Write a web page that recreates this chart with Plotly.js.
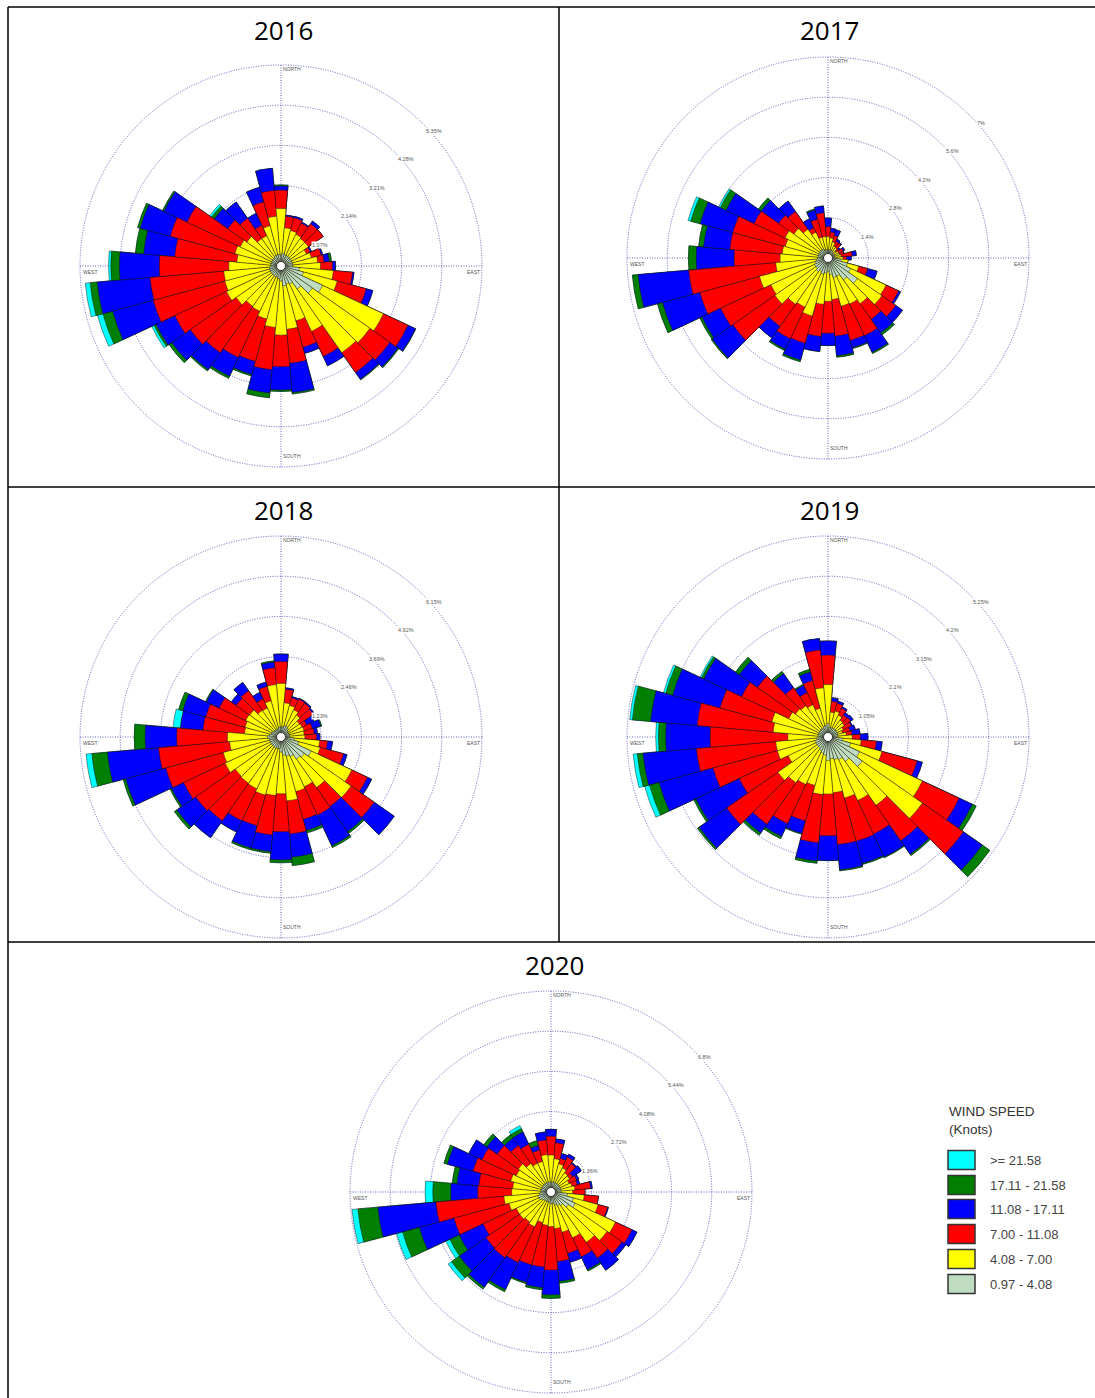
<!DOCTYPE html>
<html><head><meta charset="utf-8">
<script src="https://cdn.plot.ly/plotly-3.0.1.min.js"></script>
<style>html,body{margin:0;padding:0;background:#fff}</style>
</head><body><div id="chart" style="width:1095px;height:1398px"></div>
<script>
// Direction of each sector (degrees clockwise from north)
const directions = [0,10,20,30,40,50,60,70,80,90,100,110,120,130,140,150,160,170,180,190,200,210,220,230,240,250,260,270,280,290,300,310,320,330,340,350];
const speedClasses = ['>= 21.58','17.11 - 21.58','11.08 - 17.11','7.00 - 11.08','4.08 - 7.00','0.97 - 4.08'];
const classColors = ['#00ffff','#007f00','#0000ff','#ff0000','#ffff00','#c0dcc0'];

// Cumulative frequency (%) per direction, up to and including each speed class
const y2016_097 = [.29,.34,.31,.31,.31,.31,.31,.31,.31,.31,.49,.62,1.22,1.02,.75,.53,.49,.53,.40,.34,.31,.31,.31,.31,.31,.31,.31,.27,.27,.27,.27,.27,.27,.31,.31,.31];
const y2016_408 = [1.53,1.02,.98,.93,.89,.89,.75,.84,.98,1.05,1.40,1.55,3.01,2.89,2.82,1.92,1.51,1.69,1.84,1.64,1.46,1.33,1.31,1.46,1.60,1.55,1.53,1.39,1.18,1.27,1.20,1.11,.89,.89,1.11,1.33];
const y2016_700 = [2.02,1.33,1.33,1.26,1.37,1.37,.86,1.11,1.15,1.37,1.91,2.35,3.73,3.54,3.46,2.66,2.24,2.60,2.68,2.77,2.63,2.69,2.82,2.95,3.12,3.52,3.50,3.24,2.84,3.05,2.76,1.73,1.55,1.20,1.77,2.02];
const y2016_1108 = [2.13,1.36,1.37,1.29,1.46,1.37,.90,1.15,1.29,1.45,1.95,2.53,3.95,3.80,3.68,2.93,2.41,3.38,3.30,3.39,2.99,3.24,3.37,3.55,3.67,4.64,4.91,4.30,3.67,3.88,3.44,2.17,2.08,1.55,2.17,2.61];
const y2016_1711 = [2.16,1.36,1.37,1.29,1.46,1.37,.90,1.15,1.35,1.45,1.95,2.53,3.96,3.83,3.70,2.93,2.41,3.42,3.34,3.52,3.03,3.30,3.41,3.64,3.73,4.91,5.10,4.53,3.89,3.95,3.48,2.26,2.08,1.55,2.17,2.61];
const y2016_2158 = [2.16,1.36,1.37,1.29,1.46,1.37,.90,1.15,1.35,1.45,1.95,2.53,3.96,3.83,3.70,2.93,2.41,3.42,3.34,3.52,3.03,3.30,3.41,3.64,3.80,5.06,5.23,4.59,3.89,3.95,3.48,2.32,2.08,1.55,2.17,2.61];

const y2017_097 = [.29,.29,.29,.29,.23,.23,.23,.23,.23,.29,.46,.70,.87,1.25,.93,.70,.70,.58,.46,.52,.58,.52,.58,.52,.52,.46,.41,.35,.35,.35,.35,.35,.35,.35,.29,.29];
const y2017_408 = [.74,.70,.58,.46,.44,.35,.41,.41,.46,.52,.70,1.11,2.23,2.29,1.94,1.77,1.74,1.45,1.51,1.62,2.09,1.89,1.97,2.26,2.20,2.47,1.83,1.67,1.60,1.54,1.65,1.45,1.22,.99,.75,.75];
const y2017_700 = [1.09,.90,.81,.64,.64,.46,.58,.56,.84,.64,.70,1.43,2.71,2.88,2.61,2.99,2.97,2.73,2.62,2.74,3.07,3.10,2.91,4.05,4.13,4.62,4.87,3.27,3.43,3.43,2.84,2.10,1.98,1.16,1.40,1.58];
const y2017_1108 = [1.39,1.04,1.02,.72,.67,.52,.64,.58,.99,.81,.70,1.77,2.78,3.17,3.19,3.62,3.24,3.42,3.05,3.27,3.68,3.51,3.40,4.92,4.85,5.97,6.64,4.59,4.35,4.61,3.92,2.84,2.42,1.51,1.73,1.82];
const y2017_1711 = [1.39,1.04,1.02,.72,.67,.52,.64,.58,.99,.81,.70,1.77,2.78,3.17,3.27,3.67,3.27,3.47,3.05,3.27,3.74,3.56,3.40,4.96,4.93,6.15,6.84,4.86,4.52,4.95,4.14,2.96,2.42,1.51,1.77,1.82];
const y2017_2158 = [1.39,1.04,1.02,.72,.67,.52,.64,.58,.99,.81,.70,1.77,2.78,3.17,3.27,3.67,3.27,3.47,3.05,3.27,3.74,3.56,3.40,4.96,4.93,6.15,6.84,4.86,4.52,5.05,4.20,2.96,2.42,1.51,1.77,1.82];

const y2018_097 = [.31,.31,.36,.36,.31,.26,.26,.26,.26,.26,.41,.56,1.02,.87,.82,.66,.61,.56,.46,.36,.36,.36,.36,.36,.36,.36,.36,.41,.36,.31,.31,.26,.26,.26,.26,.31];
const y2018_408 = [1.64,1.05,1.00,.92,.82,.69,.71,.73,.71,.73,1.19,1.24,2.39,2.62,1.89,1.68,1.73,1.96,1.74,1.80,1.84,1.75,1.73,1.71,1.89,1.83,1.58,1.64,1.12,1.14,1.19,1.17,1.00,.98,1.15,1.61];
const y2018_700 = [2.31,1.47,1.24,1.28,1.26,1.21,.87,.99,1.02,1.09,1.43,1.98,2.92,3.48,2.60,2.63,2.61,2.98,2.90,3.01,2.81,2.83,3.13,3.19,3.29,3.65,3.76,3.19,2.40,2.38,2.09,1.68,1.73,1.29,1.61,2.13];
const y2018_1108 = [2.54,1.51,1.28,1.31,1.30,1.25,1.12,1.26,1.12,1.19,1.58,2.09,3.06,4.23,3.54,3.67,2.96,3.69,3.76,3.52,3.52,3.21,3.76,3.89,3.70,4.92,5.33,4.16,3.09,3.11,2.52,1.86,2.04,1.51,1.74,2.30];
const y2018_1711 = [2.54,1.51,1.28,1.31,1.30,1.25,1.12,1.29,1.12,1.19,1.58,2.09,3.06,4.23,3.60,3.73,3.04,3.95,3.85,3.57,3.57,3.21,3.76,3.98,3.75,5.00,5.81,4.49,3.09,3.24,2.55,1.86,2.04,1.51,1.74,2.34];
const y2018_2158 = [2.54,1.51,1.28,1.31,1.30,1.25,1.12,1.29,1.12,1.19,1.58,2.09,3.06,4.23,3.60,3.73,3.04,3.95,3.85,3.57,3.57,3.21,3.76,3.98,3.75,5.00,5.99,4.49,3.32,3.24,2.55,1.86,2.04,1.51,1.74,2.34];

const y2019_097 = [.35,.26,.26,.26,.26,.26,.26,.26,.26,.26,.39,.61,.91,1.09,.78,.65,.61,.57,.61,.48,.44,.39,.35,.35,.35,.35,.30,.26,.26,.26,.26,.26,.26,.26,.30,.30];
const y2019_408 = [1.37,.65,.70,.63,.54,.52,.44,.39,.48,.63,.87,1.46,2.72,3.01,2.18,1.83,1.65,1.46,1.49,1.51,1.31,1.37,1.46,1.60,1.15,1.37,1.37,1.05,1.44,1.52,1.13,1.04,1.00,.93,.78,1.29];
const y2019_700 = [2.14,.94,.91,.83,.70,.72,.67,.59,.63,.84,1.27,2.41,3.78,4.32,3.31,2.80,2.82,2.82,2.58,2.77,2.27,2.50,2.78,3.23,2.56,3.11,3.45,3.08,3.43,2.92,2.49,2.25,1.57,1.28,1.53,2.28];
const y2019_1108 = [2.51,1.03,.97,.87,.78,.80,.70,.74,.84,1.04,1.42,2.55,4.16,4.92,3.74,3.46,3.42,3.48,3.23,3.25,2.61,2.87,3.06,4.11,3.81,4.57,4.85,4.24,4.65,4.20,3.58,2.83,2.02,1.49,1.76,2.58];
const y2019_1711 = [2.51,1.03,.97,.87,.78,.80,.70,.74,.84,1.04,1.42,2.55,4.27,5.16,3.78,3.48,3.45,3.51,3.23,3.31,2.63,2.93,3.13,4.16,3.87,4.83,5.00,4.43,5.13,4.39,3.65,2.95,2.09,1.52,1.83,2.58];
const y2019_2158 = [2.51,1.03,.97,.87,.78,.80,.70,.74,.84,1.04,1.42,2.55,4.27,5.16,3.78,3.48,3.45,3.51,3.23,3.31,2.63,2.93,3.13,4.16,3.87,4.96,5.11,4.50,5.20,4.45,3.69,2.95,2.09,1.52,1.83,2.58];

const y2020_097 = [.34,.34,.34,.34,.34,.34,.34,.34,.34,.34,.56,.79,.90,.73,.56,.51,.45,.39,.39,.34,.34,.34,.34,.39,.45,.45,.39,.34,.34,.34,.34,.34,.34,.34,.34,.34];
const y2020_408 = [1.25,1.13,.99,.90,.79,.77,.68,.73,.81,.73,1.13,1.65,2.41,2.32,2.08,1.71,1.41,1.24,1.17,1.13,1.07,1.30,1.24,1.30,1.30,1.47,1.60,1.33,1.30,1.41,1.30,1.35,1.18,1.07,1.07,1.27];
const y2020_700 = [1.89,1.67,1.18,1.30,1.18,.90,.96,.92,1.34,1.15,1.61,1.98,3.02,2.94,2.73,2.42,2.15,2.36,2.64,2.55,2.55,2.63,2.72,2.69,2.54,3.40,3.91,2.48,2.45,2.73,2.58,2.23,1.92,1.78,1.47,1.77];
const y2020_1108 = [2.12,1.80,1.35,1.41,1.22,1.26,1.04,1.01,1.40,1.15,1.61,2.01,3.21,3.10,3.23,2.90,2.46,3.03,3.48,3.25,3.16,3.64,3.93,3.78,3.43,4.61,5.88,3.39,3.19,3.63,3.07,2.65,2.23,2.24,1.63,2.04];
const y2020_1711 = [2.12,1.80,1.35,1.41,1.22,1.26,1.04,1.01,1.40,1.15,1.61,2.01,3.21,3.10,3.23,2.95,2.46,3.10,3.60,3.32,3.21,3.72,4.01,4.11,3.78,5.20,6.56,4.00,3.35,3.75,3.07,2.78,2.37,2.37,1.80,2.04];
const y2020_2158 = [2.12,1.80,1.35,1.41,1.22,1.26,1.04,1.01,1.40,1.15,1.61,2.01,3.21,3.10,3.23,2.95,2.46,3.10,3.60,3.32,3.21,3.72,4.01,4.25,3.93,5.41,6.76,4.26,3.35,3.75,3.07,2.78,2.37,2.48,1.80,2.04];

const rings2016 = [1.07,2.14,3.21,4.28,5.35];
const rings2017 = [1.4,2.8,4.2,5.6,7];
const rings2018 = [1.23,2.46,3.69,4.92,6.15];
const rings2019 = [1.05,2.1,3.15,4.2,5.25];
const rings2020 = [1.36,2.72,4.08,5.44,6.8];
const titles = ['2016','2017','2018','2019','2020'];

const W = 1095, H = 1398, R = 201, GRID = '#5f5fc0';
const panels = [
  {cx:281, cy:266, tx:283, ty:30,  rings:rings2016, s:[y2016_2158,y2016_1711,y2016_1108,y2016_700,y2016_408,y2016_097]},
  {cx:828, cy:258, tx:829, ty:30,  rings:rings2017, s:[y2017_2158,y2017_1711,y2017_1108,y2017_700,y2017_408,y2017_097]},
  {cx:281, cy:737, tx:283, ty:510, rings:rings2018, s:[y2018_2158,y2018_1711,y2018_1108,y2018_700,y2018_408,y2018_097]},
  {cx:828, cy:737, tx:829, ty:510, rings:rings2019, s:[y2019_2158,y2019_1711,y2019_1108,y2019_700,y2019_408,y2019_097]},
  {cx:551, cy:1192,tx:554, ty:965, rings:rings2020, s:[y2020_2158,y2020_1711,y2020_1108,y2020_700,y2020_408,y2020_097]}
];

const px = x => x / W, py = y => 1 - y / H;
const note = (x, y, text, size, color, anchor) => ({xref:'paper', yref:'paper', x:px(x), y:py(y), text, showarrow:false,
  xanchor:anchor||'center', yanchor:'middle', borderpad:0, font:{size, color, family:'Liberation Sans, Arial, sans-serif'}});

const data = [], annotations = [], shapes = [];
const layout = {width:W, height:H, margin:{l:0,r:0,t:0,b:0}, paper_bgcolor:'#fff', showlegend:false, annotations, shapes};
const EXT = 1.008;

panels.forEach((p, i) => {
  const key = i ? 'polar' + (i + 1) : 'polar', sub = key;
  const max = p.rings[p.rings.length - 1], r = R * EXT;
  layout[key] = {
    domain:{x:[px(p.cx - r), px(p.cx + r)], y:[py(p.cy + r), py(p.cy - r)]},
    bgcolor:'rgba(0,0,0,0)', barmode:'overlay', bargap:0,
    radialaxis:{range:[0, max * EXT], tickvals:p.rings, showticklabels:false, angle:45,
      showline:false, ticks:'', showgrid:true, gridcolor:GRID, griddash:'1px,1.5px', gridwidth:1},
    angularaxis:{rotation:90, direction:'clockwise', tickmode:'array', tickvals:[0,90,180,270], showticklabels:false, ticks:'',
      showline:false, showgrid:true, gridcolor:GRID, griddash:'1px,1.5px', gridwidth:1}
  };
  p.s.forEach((vals, k) => data.push({type:'barpolar', subplot:sub, name:speedClasses[k], r:vals, theta:directions, width:10,
    marker:{color:classColors[k], line:{color:'#111', width:0.45}}, hoverinfo:'skip'}));
  data.push({type:'scatterpolar', subplot:sub, mode:'markers', r:[0], theta:[0], hoverinfo:'skip',
    marker:{size:9, color:'#fff', line:{color:'#333', width:1}}});
  annotations.push({xref:'paper', yref:'paper', x:px(p.tx), y:py(p.ty), text:titles[i], showarrow:false, xanchor:'center', yanchor:'middle',
    font:{size:26, color:'#000', family:'Open Sans, sans-serif'}});
  annotations.push(note(p.cx + 11, p.cy - 197, 'NORTH', 5, '#555'));
  annotations.push(note(p.cx + 11, p.cy + 190, 'SOUTH', 5, '#555'));
  annotations.push(note(p.cx + 192, p.cy + 6, 'EAST', 5, '#555'));
  annotations.push(note(p.cx - 191, p.cy + 6, 'WEST', 5, '#555'));
  // Ring labels beside the 45-degree point of each ring
  p.rings.forEach((v, n) => {
    const d = R * (n + 1) / p.rings.length * Math.SQRT1_2;
    const a = note(p.cx + d + 11, p.cy - d + 7, v + '%', 5.5, '#555');
    a.bgcolor = '#fff';
    annotations.push(a);
  });
});

// Panel frame
[[8,7,1095,7],[8,487,1095,487],[8,942,1095,942],[8,7,8,1398],[559,7,559,942]].forEach(l =>
  shapes.push({type:'line', xref:'paper', yref:'paper', x0:px(l[0]), y0:py(l[1]), x1:px(l[2]), y1:py(l[3]), line:{color:'#000', width:1.5}}));

// Legend
annotations.push(note(948, 1111, 'WIND SPEED', 13.5, '#333', 'left'));
annotations.push(note(948, 1129, '(Knots)', 13.5, '#333', 'left'));
const legendY = [1160,1185,1209,1234,1259,1284];
speedClasses.forEach((name, k) => {
  shapes.push({type:'rect', xref:'paper', yref:'paper', x0:px(948), x1:px(975), y0:py(legendY[k] - 9.5), y1:py(legendY[k] + 9.5),
    fillcolor:classColors[k], line:{color:'#333', width:1.5}});
  annotations.push(note(989, legendY[k], name, 13, '#444', 'left'));
});

Plotly.newPlot('chart', data, layout, {displayModeBar:false, staticPlot:true});
</script></body></html>
